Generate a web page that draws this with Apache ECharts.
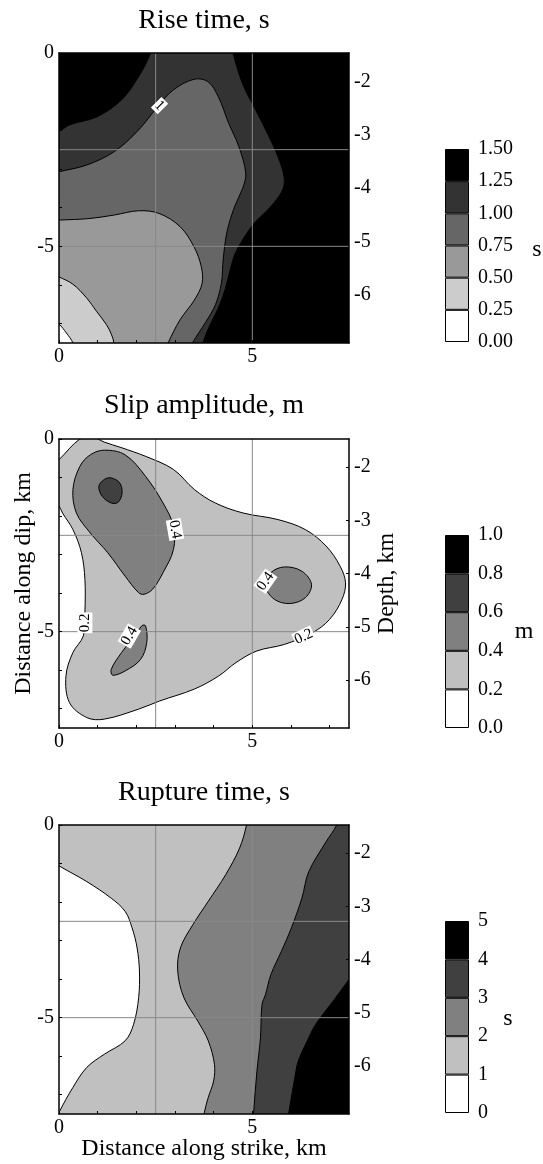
<!DOCTYPE html>
<html><head><meta charset="utf-8">
<script src="https://cdn.jsdelivr.net/npm/echarts@6/dist/echarts.min.js"></script>
<style>html,body{margin:0;padding:0;background:#fff}#c{width:543px;height:1164px}</style>
</head><body><div id="c"></div>
<script>
// ---------- DATA ----------
const titles = ['Rise time, s', 'Slip amplitude, m', 'Rupture time, s'];
const units = ['s', 'm', 's'];
const xTicks = [0, 1, 2, 3, 4, 5, 6, 7];
const yTicks = [0, -1, -2, -3, -4, -5, -6, -7];
const xLabels = [0, 5];
const yLabels = [0, -5];
const depthTicks = [-2, -3, -4, -5, -6];
const xRange = [0, 7.5];
const yRange = [-7.5, 0];
const depthRange = [-6.9, -1.47];
const gridX = [2.5, 5];
const gridY = [-2.5, -5];

const riseLevels = [0, 0.25, 0.5, 0.75, 1.0, 1.25, 1.5];
const riseColors = ['#ffffff', '#cccccc', '#999999', '#666666', '#333333', '#000000'];
const slipLevels = [0, 0.2, 0.4, 0.6, 0.8, 1.0];
const slipColors = ['#ffffff', '#c0c0c0', '#808080', '#404040', '#000000'];
const ruptLevels = [0, 1, 2, 3, 4, 5];
const ruptColors = ['#ffffff', '#c0c0c0', '#808080', '#404040', '#000000'];

// contour regions, [x km along strike, y km along dip]
const riseC125 = [[2.5,0.5],[2.37,0],[2.06,-0.61],[1.61,-1.22],[0.98,-1.65],[0.27,-1.86],[0,-2.03],[-0.5,-2.25],[-1,-3],[-1,-9],[3.5,-9],[3.6,-8],[3.72,-7.5],[3.92,-7.0],[4.12,-6.6],[4.3,-6.1],[4.43,-5.6],[4.55,-5.2],[4.77,-4.8],[5.05,-4.4],[5.45,-4.0],[5.78,-3.55],[5.82,-3.2],[5.65,-2.65],[5.4,-2.1],[5.1,-1.5],[4.75,-0.8],[4.5,0],[4.4,0.5],[4.2,1],[2.7,1]];
const riseC100 = [[-0.5,-3.2],[0,-3.07],[0.71,-2.9],[1.43,-2.55],[2.06,-1.99],[2.55,-1.39],[2.95,-0.96],[3.49,-0.68],[3.85,-0.74],[4.12,-1.13],[4.39,-1.82],[4.65,-2.42],[4.83,-3.11],[4.75,-3.5],[4.55,-3.95],[4.35,-4.6],[4.25,-5.3],[4.2,-5.95],[4.05,-6.5],[3.8,-6.95],[3.45,-7.5],[3.2,-8],[2.5,-9],[-1,-9],[-1,-3.5]];
const riseC075 = [[-0.5,-4.33],[0,-4.32],[0.8,-4.28],[1.43,-4.19],[2.06,-4.08],[2.59,-4.15],[3.13,-4.49],[3.49,-5.01],[3.68,-5.53],[3.7,-5.96],[3.5,-6.39],[3.13,-6.9],[2.82,-7.5],[2.6,-8],[2,-9],[-1,-9],[-1,-4.5]];
const riseC050 = [[-0.4,-5.6],[0,-5.79],[0.36,-5.98],[0.71,-6.33],[0.97,-6.68],[1.23,-7.03],[1.36,-7.29],[1.42,-7.5],[1.45,-8],[1.2,-9],[-1,-9],[-1,-5.5]];
const riseC025 = [[-0.25,-6.85],[0,-7.01],[0.19,-7.24],[0.36,-7.5],[0.45,-7.9],[0.3,-9],[-1,-9],[-1,-6.8]];
const riseBands = [4, 3, 2, 1, 0];
const riseLabels = [[2.6, -1.36, '1', -45]];

const slipC02 = [[-0.2,-0.74],[0,-0.54],[0.54,0],[0.85,0.06],[1.17,-0.08],[1.6,-0.22],[2.24,-0.45],[2.96,-0.79],[3.5,-1.31],[4.04,-1.66],[4.76,-1.92],[5.66,-2.09],[6.37,-2.35],[6.91,-2.78],[7.27,-3.3],[7.41,-3.73],[7.32,-4.16],[7.0,-4.68],[6.55,-5.03],[5.83,-5.33],[5.12,-5.5],[4.58,-5.8],[4.13,-6.15],[3.5,-6.49],[2.6,-6.8],[2.06,-7.01],[1.17,-7.27],[0.72,-7.23],[0.27,-6.84],[0.18,-6.15],[0.36,-5.54],[0.63,-5.11],[0.67,-4.51],[0.67,-3.64],[0.58,-2.95],[0.36,-2.35],[0.09,-1.92],[0,-1.74],[-0.3,-1.4],[-0.6,-1.1]];
const slipC04a = [[1.17,-0.29],[1.71,-0.41],[2.24,-0.97],[2.69,-1.66],[2.96,-2.26],[2.96,-2.87],[2.69,-3.47],[2.42,-3.9],[2.2,-4.03],[2.06,-3.99],[1.71,-3.56],[1.26,-2.95],[0.81,-2.44],[0.45,-1.92],[0.36,-1.31],[0.54,-0.71],[0.81,-0.41]];
const slipC04b = [[5.34,-3.82],[5.48,-3.47],[5.83,-3.32],[6.28,-3.43],[6.53,-3.77],[6.37,-4.12],[5.97,-4.27],[5.57,-4.16]];
const slipC04c = [[2.24,-4.85],[2.27,-5.28],[2.11,-5.72],[1.71,-6.02],[1.39,-6.13],[1.35,-5.98],[1.62,-5.54],[2.02,-5.03],[2.15,-4.84]];
const slipC06 = [[1.03,-1.23],[1.17,-1.05],[1.35,-1.01],[1.57,-1.14],[1.63,-1.4],[1.53,-1.64],[1.35,-1.66],[1.12,-1.49]];
const slipBands = [1, 2, 2, 2, 3];
const slipLabels = [[3.0, -2.35, '0.4', -80], [5.34, -3.69, '0.4', 55], [0.67, -4.77, '0.2', 90], [1.82, -5.11, '0.4', 60], [6.33, -5.13, '0.2', 25]];

const ruptC1 = [[-0.5,-0.75],[0,-1.06],[0.72,-1.47],[1.35,-1.9],[1.71,-2.24],[1.89,-2.67],[2.02,-3.19],[2.08,-3.79],[2.06,-4.48],[1.93,-5.17],[1.71,-5.6],[1.17,-5.95],[0.72,-6.29],[0.36,-6.81],[0,-7.46],[-0.2,-7.9],[-0.5,-9],[9,-9],[9,1],[-1,1],[-1,-0.5]];
const ruptC2 = [[4.9,0.4],[4.85,0],[4.67,-0.6],[4.31,-1.29],[3.86,-1.98],[3.46,-2.59],[3.14,-3.19],[3.07,-3.79],[3.23,-4.48],[3.59,-5.09],[3.86,-5.6],[4.02,-6.21],[4.0,-6.64],[3.86,-7.07],[3.75,-7.5],[3.7,-7.9],[3.6,-9],[9,-9],[9,1],[5,1]];
const ruptC3 = [[7.25,0.35],[7.18,0],[6.91,-0.43],[6.46,-1.21],[6.28,-1.9],[6.01,-2.67],[5.75,-3.28],[5.48,-3.88],[5.34,-4.4],[5.25,-4.66],[5.21,-5.52],[5.12,-6.38],[5.03,-7.5],[5.0,-7.9],[5,-9],[9,-9],[9,1],[7.3,1]];
const ruptC4 = [[7.8,-3.6],[7.5,-4.01],[7.09,-4.57],[6.64,-5.17],[6.46,-5.52],[6.19,-6.12],[6.1,-6.55],[6.01,-7.07],[5.94,-7.5],[5.9,-7.9],[5.9,-9],[9,-9],[9,-3.5]];
const ruptBands = [1, 2, 3, 4];

// ---------- BUILD ----------
const FONT = "'Liberation Serif','Times New Roman',serif";
const panels = [
  { top: 53, height: 290, cbTop: 149, cbH: 193, levels: riseLevels, colors: riseColors, base: 5,
    regions: [riseC125, riseC100, riseC075, riseC050, riseC025], bands: riseBands, labels: riseLabels, dec: 2,
    title: titles[0], titleY: 21, unit: units[0], unitX: 537, unitY: 250 },
  { top: 439, height: 289, cbTop: 535, cbH: 193, levels: slipLevels, colors: slipColors, base: 0,
    regions: [slipC02, slipC04a, slipC04b, slipC04c, slipC06], bands: slipBands, labels: slipLabels, dec: 1,
    title: titles[1], titleY: 406, unit: units[1], unitX: 524, unitY: 632, names: true },
  { top: 825, height: 289, cbTop: 921, cbH: 192, levels: ruptLevels, colors: ruptColors, base: 0,
    regions: [ruptC1, ruptC2, ruptC3, ruptC4], bands: ruptBands, labels: [], dec: 0,
    title: titles[2], titleY: 793, unit: units[2], unitX: 508, unitY: 1019, xName: true }
];

const grid = [], xAxis = [], yAxis = [], series = [], graphic = [];
const axisLine = { show: true, onZero: false, lineStyle: { color: '#000', width: 1.5 } };
const tickLabel = { color: '#000', fontFamily: FONT, fontSize: 20 };
const nameStyle = { color: '#000', fontFamily: FONT, fontSize: 24 };
const gridLines = gridX.map(v => ['x', v]).concat(gridY.map(v => ['y', v]));

panels.forEach((p, g) => {
  grid.push({ left: 59, top: p.top, width: 290, height: p.height, show: true,
    backgroundColor: p.colors[p.base], borderWidth: 0, outerBoundsMode: 'none' });
  const xb = xAxis.length;
  xAxis.push({ gridIndex: g, type: 'value', position: 'bottom', min: xRange[0], max: xRange[1], interval: 2.5, z: 10,
    axisLine, axisTick: { show: true, inside: true, length: 3, customValues: xTicks, lineStyle: { color: '#000' } },
    axisLabel: Object.assign({ customValues: xLabels, margin: 4 }, tickLabel),
    splitLine: { show: false },
    name: p.xName ? 'Distance along strike, km' : '', nameLocation: 'middle', nameGap: 23, nameTextStyle: nameStyle, nameMoveOverlap: false });
  xAxis.push({ gridIndex: g, type: 'value', position: 'top', min: xRange[0], max: xRange[1], z: 10,
    axisLine, axisTick: { show: false }, axisLabel: { show: false }, splitLine: { show: false } });
  const yb = yAxis.length;
  yAxis.push({ gridIndex: g, type: 'value', position: 'left', min: yRange[0], max: yRange[1], interval: 2.5, z: 10,
    axisLine, axisTick: { show: true, inside: true, length: 3, customValues: yTicks, lineStyle: { color: '#000' } },
    axisLabel: Object.assign({ customValues: yLabels, margin: 5 }, tickLabel),
    splitLine: { show: false },
    name: p.names ? 'Distance along dip, km' : '', nameLocation: 'middle', nameGap: 23, nameTextStyle: nameStyle, nameMoveOverlap: false });
  yAxis.push({ gridIndex: g, type: 'value', position: 'right', min: depthRange[0], max: depthRange[1], z: 10,
    axisLine, axisTick: { show: true, inside: true, length: 3, customValues: depthTicks, lineStyle: { color: '#000' } },
    axisLabel: Object.assign({ customValues: depthTicks, margin: 5 }, tickLabel),
    splitLine: { show: false },
    name: p.names ? 'Depth, km' : '', nameLocation: 'middle', nameGap: 26, nameTextStyle: nameStyle, nameMoveOverlap: false });

  const regs = p.regions, bands = p.bands, cols = p.colors;
  series.push({ type: 'custom', xAxisIndex: xb, yAxisIndex: yb, clip: true, silent: true, z: 2,
    data: regs.map(() => [1, -1]),
    renderItem: (params, api) => {
      const pts = regs[params.dataIndex].map(q => api.coord(q));
      return { type: 'polygon', shape: { points: pts, smooth: 0.35 },
        style: { fill: cols[bands[params.dataIndex]], stroke: '#000', lineWidth: 1 } };
    } });
  // grid lines every 2.5 km, drawn over the filled contours
  series.push({ type: 'custom', xAxisIndex: xb, yAxisIndex: yb, clip: true, silent: true, z: 4,
    data: gridLines.map(() => [1, -1]),
    renderItem: (params, api) => {
      const L = gridLines[params.dataIndex];
      const a = L[0] === 'x' ? api.coord([L[1], yRange[0]]) : api.coord([xRange[0], L[1]]);
      const b = L[0] === 'x' ? api.coord([L[1], yRange[1]]) : api.coord([xRange[1], L[1]]);
      return { type: 'line', shape: { x1: a[0], y1: a[1], x2: b[0], y2: b[1] },
        style: { stroke: '#888', lineWidth: 1 } };
    } });
  const labs = p.labels;
  if (labs.length) series.push({ type: 'custom', xAxisIndex: xb, yAxisIndex: yb, clip: true, silent: true, z: 5,
    data: labs.map(l => [l[0], l[1]]),
    renderItem: (params, api) => {
      const L = labs[params.dataIndex];
      const c = api.coord([L[0], L[1]]);
      return { type: 'text', x: c[0], y: c[1], rotation: L[3] * Math.PI / 180,
        style: { text: L[2], font: '15px ' + FONT, fill: '#000', backgroundColor: '#fff', padding: [0, 1], align: 'center', verticalAlign: 'middle' } };
    } });

  graphic.push({ type: 'text', x: 204, y: p.titleY, style: { text: p.title, font: '28px ' + FONT, fill: '#000', align: 'center', verticalAlign: 'middle' } });
  graphic.push({ type: 'text', x: p.unitX, y: p.unitY, style: { text: p.unit, font: '24px ' + FONT, fill: '#000', align: 'center', verticalAlign: 'middle' } });
});

// colorbars
panels.forEach((p, g) => {
  const gi = grid.length;
  grid.push({ left: 445, top: p.cbTop, width: 24, height: p.cbH, outerBoundsMode: 'none' });
  const xi = xAxis.length, yi = yAxis.length;
  xAxis.push({ gridIndex: gi, type: 'category', data: ['c'], show: false });
  const lv = p.levels, dec = p.dec;
  yAxis.push({ gridIndex: gi, type: 'value', position: 'right', min: lv[0], max: lv[lv.length - 1],
    axisLine: { show: false }, axisTick: { show: false }, splitLine: { show: false },
    axisLabel: Object.assign({ customValues: lv, margin: 9, padding: [4, 0, 0, 0], formatter: v => Number(v).toFixed(dec) }, tickLabel) });
  for (let i = 0; i < lv.length - 1; i++) {
    series.push({ type: 'bar', xAxisIndex: xi, yAxisIndex: yi, stack: 'cb' + g, barWidth: '100%', silent: true,
      data: [+(lv[i + 1] - lv[i]).toFixed(6)],
      itemStyle: { color: p.colors[i], borderColor: '#000', borderWidth: 1 } });
  }
});

const chart = echarts.init(document.getElementById('c'), null, { renderer: 'canvas' });
chart.setOption({ animation: false, backgroundColor: '#fff', grid, xAxis, yAxis, series, graphic });
</script></body></html>
